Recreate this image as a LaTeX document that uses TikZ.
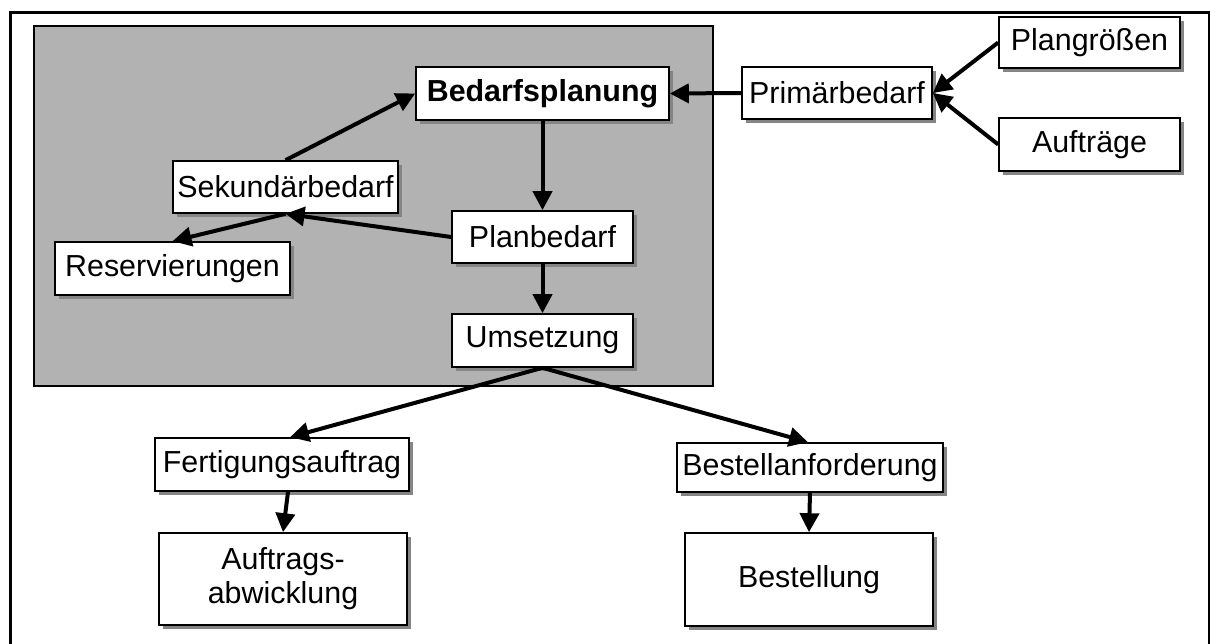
\documentclass[tikz,border=0pt]{standalone}
\usepackage{fontspec}
\setmainfont{Liberation Sans}
\usetikzlibrary{arrows.meta,shadows}
\definecolor{panelgray}{HTML}{B2B2B2}
\definecolor{shadowgray}{HTML}{858585}
\begin{document}
\begin{tikzpicture}[x=0.5pt,y=-0.5pt,
  box/.style={draw=black,line width=0.8pt,fill=white,inner sep=0pt,
    font=\fontsize{15.2}{17}\selectfont,align=center,
    drop shadow={shadow xshift=2pt,shadow yshift=-2pt,fill=shadowgray,opacity=1}},
  flow/.style={line width=2pt,-{Triangle[length=9.5pt,width=9.5pt]}}]
\useasboundingbox (0,0) rectangle (1210,643);
\clip (0,0) rectangle (1210,643);
% outer frame, open at the bottom
\draw[line width=1.5pt] (10,660) |- (1209,12) -- (1209,660);
% planning area
\draw[fill=panelgray,line width=0.6pt] (34,26) rectangle (713,386);

% nodes
\node[box,minimum width=126.5pt,minimum height=26.5pt,font=\fontsize{15.2}{17}\selectfont\bfseries] (bed) at (542.5,93.5) {Bedarfsplanung};
\node[box,minimum width=95pt,minimum height=26pt] (prim) at (837,93) {Primärbedarf};
\node[box,minimum width=90.5pt,minimum height=25.5pt] (plang) at (1089.5,42.5) {Plangrößen};
\node[box,minimum width=90.5pt,minimum height=26.5pt] (auftr) at (1089.5,144.5) {Aufträge};
\node[box,minimum width=112.5pt,minimum height=26pt] (sek) at (285.5,187) {Sekundärbedarf};
\node[box,minimum width=117.5pt,minimum height=26.5pt] (res) at (172.5,268.5) {Reservierungen};
\node[box,minimum width=90.5pt,minimum height=26pt] (plan) at (542.5,237) {Planbedarf};
\node[box,minimum width=90.5pt,minimum height=26.5pt] (ums) at (542.5,340.5) {Umsetzung};
\node[box,minimum width=127pt,minimum height=26.5pt] (fert) at (282,464.5) {Fertigungsauftrag};
\node[box,minimum width=124pt,minimum height=46pt] (abw) at (283,579) {Auftrags-\\abwicklung};
\node[box,minimum width=133pt,minimum height=24.5pt] (banf) at (810,467.5) {Bestellanforderung};
\node[box,minimum width=124pt,minimum height=46.5pt] (best) at (809,579.5) {Bestellung};

% connectors
\draw[flow] (prim.west) -- (bed.east);
\draw[flow] (plang.west) -- (prim.east);
\draw[flow] (auftr.west) -- (prim.east);
\draw[flow] (sek.north) -- (bed.west);
\draw[flow] (bed.south) -- (plan.north);
\draw[flow] (plan.west) -- (sek.south);
\draw[flow] (sek.south) -- (res.north);
\draw[flow] (plan.south) -- (ums.north);
\draw[flow] (ums.south) -- ([xshift=4pt]fert.north);
\draw[flow] (ums.south) -- ([xshift=-1pt]banf.north);
\draw[flow] ([xshift=3pt]fert.south) -- (abw.north);
\draw[flow] (banf.south) -- (best.north);
\end{tikzpicture}
\end{document}
